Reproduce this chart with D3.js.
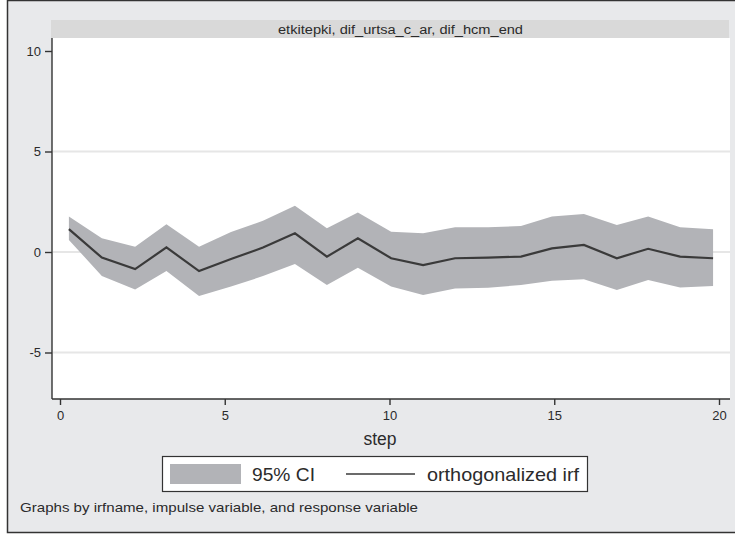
<!DOCTYPE html>
<html>
<head>
<meta charset="utf-8">
<script src="https://cdn.jsdelivr.net/npm/d3@7"></script>
<style>
  body { margin: 0; background: #fff; }
  text { font-family: "Liberation Sans", Arial, sans-serif; fill: #2b2b2b; }
</style>
</head>
<body>
<div class="chart"></div>
<script>
// values (step positions as drawn)
const steps = [0.27, 1.27, 2.28, 3.23, 4.22, 5.19, 6.16, 7.13, 8.10, 9.04, 10.05,
  11.02, 11.99, 12.99, 13.99, 14.93, 15.90, 16.90, 17.85, 18.82, 19.82];
const irf = [1.14, -0.28, -0.85, 0.23, -0.95, -0.35, 0.22, 0.93, -0.23, 0.68, -0.31,
  -0.65, -0.31, -0.28, -0.23, 0.18, 0.35, -0.31, 0.16, -0.23, -0.31];
const ciUpper = [1.76, 0.68, 0.26, 1.38, 0.26, 1.0, 1.55, 2.3, 1.18, 1.96, 1.01,
  0.93, 1.23, 1.23, 1.29, 1.76, 1.89, 1.34, 1.76, 1.23, 1.13];
const ciLower = [0.6, -1.19, -1.86, -0.95, -2.19, -1.72, -1.2, -0.6, -1.64, -0.78, -1.72,
  -2.14, -1.81, -1.78, -1.64, -1.43, -1.36, -1.89, -1.39, -1.76, -1.69];
const xTicks = [0, 5, 10, 15, 20];
const yTicks = [-5, 0, 5, 10];
const panelTitle = "etkitepki, dif_urtsa_c_ar, dif_hcm_end";
const legendLabels = ["95% CI", "orthogonalized irf"];
const note = "Graphs by irfname, impulse variable, and response variable";

const W = 735, H = 535;
const plot = { left: 52, right: 730, top: 38, bottom: 399 };

const svg = d3.select(".chart").append("svg")
  .attr("width", W).attr("height", H);

// outer graph region
svg.append("rect")
  .attr("x", 7.5).attr("y", 0.5).attr("width", W + 10).attr("height", 532)
  .attr("fill", "#e8e9eb").attr("stroke", "#333").attr("stroke-width", 1.5);

// panel title strip
svg.append("rect")
  .attr("x", 51).attr("y", 20).attr("width", 678).attr("height", 18)
  .attr("fill", "#d9d9d9");
svg.append("text")
  .attr("x", 278).attr("y", 33.5)
  .attr("font-size", "12.5px")
  .attr("textLength", 245).attr("lengthAdjust", "spacingAndGlyphs")
  .text(panelTitle);

svg.append("rect")
  .attr("x", plot.left).attr("y", plot.top)
  .attr("width", plot.right - plot.left).attr("height", plot.bottom - plot.top)
  .attr("fill", "#fff");

const x = d3.scaleLinear().domain([0, 20]).range([60, 719]);
const y = d3.scaleLinear().domain([0, 10]).range([252, 51]);

// gridlines
svg.append("g").selectAll("line")
  .data(yTicks.filter(d => d !== 10))
  .join("line")
  .attr("x1", plot.left + 1).attr("x2", plot.right)
  .attr("y1", d => y(d)).attr("y2", d => y(d))
  .attr("stroke", "#e6e6e6").attr("stroke-width", 2);

const data = steps.map((s, i) => ({ s, v: irf[i], lo: ciLower[i], hi: ciUpper[i] }));

svg.append("path")
  .datum(data)
  .attr("fill", "#b2b3b7")
  .attr("d", d3.area().x(d => x(d.s)).y0(d => y(d.lo)).y1(d => y(d.hi)));

svg.append("path")
  .datum(data)
  .attr("fill", "none")
  .attr("stroke", "#3a3a3a")
  .attr("stroke-width", 2.2)
  .attr("d", d3.line().x(d => x(d.s)).y(d => y(d.v)));

// axes
const xAxis = svg.append("g").attr("transform", `translate(0,${plot.bottom})`)
  .call(d3.axisBottom(x).tickValues(xTicks).tickSize(6).tickPadding(6).tickSizeOuter(0));
xAxis.select(".domain").attr("d", `M${plot.left},0H${plot.right}`);

const yAxis = svg.append("g").attr("transform", `translate(${plot.left},0)`)
  .call(d3.axisLeft(y).tickValues(yTicks).tickFormat(d => String(d))
    .tickSize(7).tickPadding(4).tickSizeOuter(0));
yAxis.select(".domain").attr("d", `M0,${plot.top}V${plot.bottom}`);

svg.selectAll(".tick text").attr("font-size", "13px").attr("fill", "#2b2b2b")
  .attr("font-family", "Liberation Sans, Arial, sans-serif");
svg.selectAll(".domain, .tick line").attr("stroke", "#333").attr("stroke-width", 1.4);

svg.append("text")
  .attr("x", 380).attr("y", 445).attr("text-anchor", "middle")
  .attr("font-size", "17.5px").text("step");

// legend
const lg = svg.append("g");
lg.append("rect")
  .attr("x", 162.5).attr("y", 456.5).attr("width", 425).attr("height", 35)
  .attr("fill", "#fff").attr("stroke", "#333").attr("stroke-width", 1.2);
lg.append("rect")
  .attr("x", 170).attr("y", 464).attr("width", 71).attr("height", 20)
  .attr("fill", "#b2b3b7");
lg.append("text").attr("x", 252).attr("y", 481)
  .attr("font-size", "18.5px")
  .attr("textLength", 63).attr("lengthAdjust", "spacingAndGlyphs")
  .text(legendLabels[0]);
lg.append("line")
  .attr("x1", 346).attr("x2", 415).attr("y1", 474).attr("y2", 474)
  .attr("stroke", "#3a3a3a").attr("stroke-width", 1.4);
lg.append("text").attr("x", 427).attr("y", 481)
  .attr("font-size", "18.5px")
  .attr("textLength", 152).attr("lengthAdjust", "spacingAndGlyphs")
  .text(legendLabels[1]);

svg.append("text")
  .attr("x", 20).attr("y", 512)
  .attr("font-size", "13.5px")
  .attr("textLength", 398).attr("lengthAdjust", "spacingAndGlyphs")
  .text(note);
</script>
</body>
</html>
